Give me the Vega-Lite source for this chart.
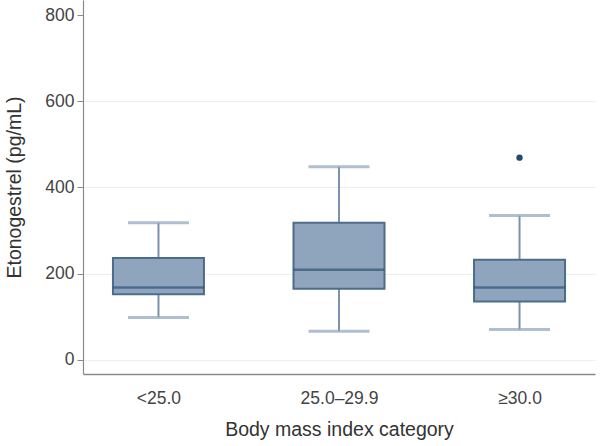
{
  "$schema": "https://vega.github.io/schema/vega-lite/v6.json",
  "autosize": "none",
  "width": 512,
  "height": 374,
  "padding": {"left": 83, "top": 0, "right": 6, "bottom": 72},
  "background": "white",
  "config": {
    "view": {"stroke": null},
    "font": "Liberation Sans",
    "axis": {"labelFont": "Liberation Sans", "titleFont": "Liberation Sans", "titleFontWeight": "normal", "labelColor": "#444444", "titleColor": "#333333", "domainColor": "#8a8a8a", "tickColor": "#8a8a8a"}
  },
  "datasets": {
    "boxes": [
      {"cat": "<25.0", "lo": 98, "q1": 152, "med": 168, "q3": 236, "hi": 318},
      {"cat": "25.0–29.9", "lo": 66, "q1": 165, "med": 209, "q3": 318, "hi": 448},
      {"cat": "≥30.0", "lo": 70, "q1": 135, "med": 168, "q3": 232, "hi": 335}
    ],
    "outliers": [
      {"cat": "≥30.0", "v": 469}
    ]
  },
  "encoding": {
    "x": {
      "field": "cat", "type": "nominal",
      "sort": ["<25.0", "25.0–29.9", "≥30.0"],
      "scale": {"type": "point", "padding": 0.418},
      "axis": {"title": "Body mass index category", "labelAngle": 0, "ticks": false, "labelFontSize": 17.5, "titleFontSize": 19.5, "labelPadding": 15, "titlePadding": 14, "domainWidth": 1.5, "grid": false}
    }
  },
  "layer": [
    {
      "data": {"name": "boxes"},
      "mark": {"type": "rule", "color": "#7a92ab", "strokeWidth": 2},
      "encoding": {
        "y": {
          "field": "lo", "type": "quantitative",
          "scale": {"domain": [-33, 835], "nice": false, "zero": false},
          "axis": {"title": "Etonogestrel (pg/mL)", "values": [0, 200, 400, 600, 800], "labelFontSize": 17.5, "titleFontSize": 19.5, "tickSize": 6, "labelPadding": 3, "titlePadding": 20, "grid": true, "gridColor": "#e8f1f1", "gridWidth": 1, "gridOpacity": {"condition": {"test": "datum.value === 800", "value": 0}, "value": 1}, "domainWidth": 1.2}
        },
        "y2": {"field": "hi"}
      }
    },
    {
      "data": {"name": "boxes"},
      "mark": {"type": "tick", "color": "#8ea4bc", "thickness": 3, "size": 61, "orient": "horizontal"},
      "encoding": {"y": {"field": "lo", "type": "quantitative"}}
    },
    {
      "data": {"name": "boxes"},
      "mark": {"type": "tick", "color": "#8ea4bc", "thickness": 3, "size": 61, "orient": "horizontal"},
      "encoding": {"y": {"field": "hi", "type": "quantitative"}}
    },
    {
      "data": {"name": "boxes"},
      "mark": {"type": "bar", "size": 91, "fill": "#8fa5bd", "stroke": "#4d6c8c", "strokeWidth": 2},
      "encoding": {
        "y": {"field": "q1", "type": "quantitative"},
        "y2": {"field": "q3"}
      }
    },
    {
      "data": {"name": "boxes"},
      "mark": {"type": "tick", "color": "#2f5478", "thickness": 2.5, "size": 91, "orient": "horizontal"},
      "encoding": {"y": {"field": "med", "type": "quantitative"}}
    },
    {
      "data": {"name": "outliers"},
      "mark": {"type": "point", "filled": true, "color": "#1f4a72", "size": 40, "opacity": 1},
      "encoding": {"y": {"field": "v", "type": "quantitative"}}
    }
  ]
}
